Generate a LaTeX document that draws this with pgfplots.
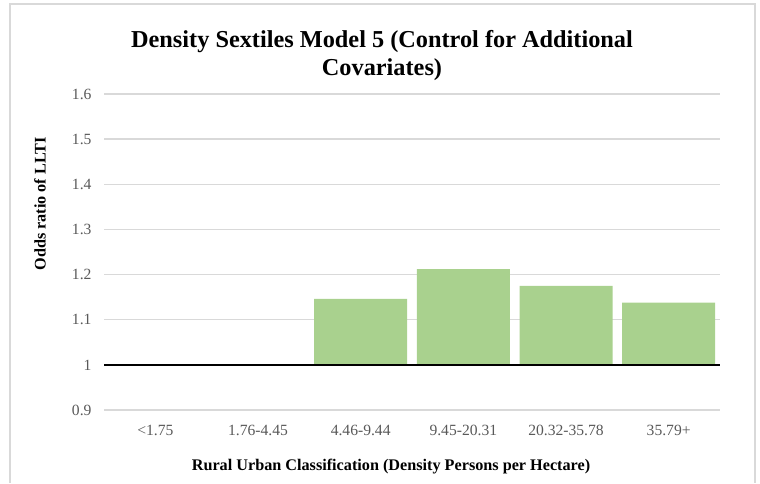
\documentclass[border=0pt]{standalone}
\usepackage{pgfplots}
\pgfplotsset{compat=1.18}
\usepackage{fontspec}
\setmainfont{Liberation Serif}
\definecolor{gridgray}{RGB}{217,217,217}
\definecolor{ticktext}{RGB}{89,89,89}
\definecolor{barfill}{RGB}{169,209,142}
\begin{document}
\begin{tikzpicture}[x=1pt,y=1pt]
\path[use as bounding box] (0,0) rectangle (760,483);
% chart area frame (open at the bottom)
\draw[gridgray, line width=2pt] (10,0) -- (10,479) -- (755,479) -- (755,0);
\begin{axis}[
  at={(104pt,73pt)}, anchor=south west,
  scale only axis, width=616pt, height=316pt,
  ybar, bar width=93pt,
  xmin=-0.5, xmax=5.5,
  ymin=0.9, ymax=1.6,
  y coord trafo/.code={\pgfmathparse{#1-1}},
  y coord inv trafo/.code={\pgfmathparse{#1+1}},
  ytick={0.9,1,1.1,1.2,1.3,1.4,1.5,1.6},
  yticklabels={0.9,1,1.1,1.2,1.3,1.4,1.5,1.6},
  xtick={0,1,2,3,4,5},
  xticklabels={<1.75,1.76-4.45,4.46-9.44,9.45-20.31,20.32-35.78,35.79+},
  major tick length=0pt,
  axis line style={draw=none},
  ymajorgrids, grid style={gridgray, line width=1.5pt},
  tick label style={font=\fontsize{15.6}{18}\selectfont, text=ticktext},
  yticklabel style={xshift=-9pt},
  xticklabel style={yshift=-12pt},
  /pgf/number format/assume math mode=true,
  clip=false,
]
\addplot[fill=barfill, draw=none] coordinates {
  (0,1) (1,1) (2,1.146) (3,1.212) (4,1.175) (5,1.138)
};
% reference line at an odds ratio of 1
\addplot[ybar=0pt, sharp plot, black, line width=2.5pt, forget plot] coordinates {(-0.5,1) (5.5,1)};
\end{axis}
\node[align=center, font=\fontsize{24.3}{28}\selectfont\bfseries] at (382,427)
  {Density Sextiles Model 5 (Control for Additional\\Covariates)};
\node[rotate=90, font=\fontsize{16.2}{18}\selectfont\bfseries] at (40,279) {Odds ratio of LLTI};
\node[font=\fontsize{16.2}{18}\selectfont\bfseries] at (391,16) {Rural Urban Classification (Density Persons per Hectare)};
\end{tikzpicture}
\end{document}
